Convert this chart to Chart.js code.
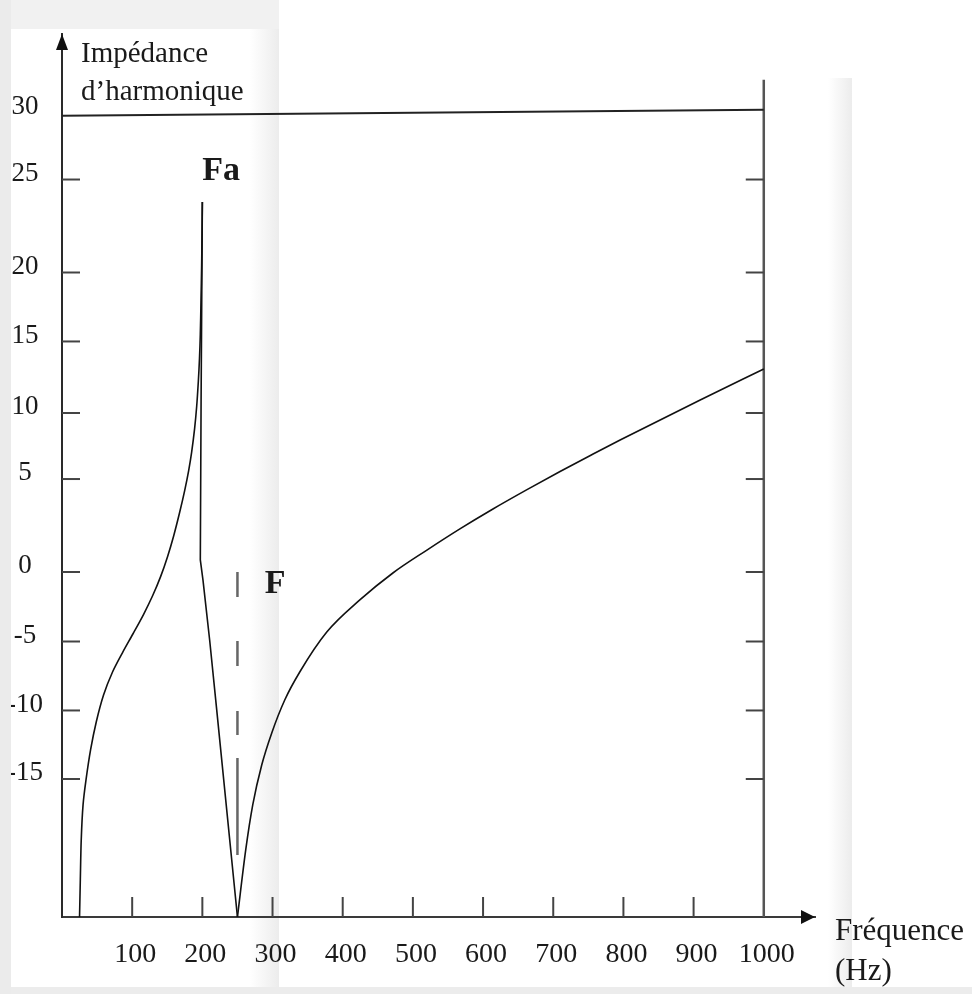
<!DOCTYPE html>
<html lang="fr">
<head>
<meta charset="utf-8">
<title>Impédance d'harmonique</title>
<script src="https://cdn.jsdelivr.net/npm/chart.js@4.4.1/dist/chart.umd.min.js"></script>
<style>
html, body { margin: 0; padding: 0; background: #fff; }
#cadre { position: relative; width: 972px; height: 994px; overflow: hidden; background: #fff; }
.bande { position: absolute; }
#grafik { position: absolute; left: 0; top: 0; }
</style>
</head>
<body>
<div id="cadre">
  <div class="bande" style="left:0;top:0;width:279px;height:29px;background:#f1f1f1"></div>
  <div class="bande" style="left:250px;top:29px;width:29px;height:965px;background:linear-gradient(to right,#fff,#ececec)"></div>
  <div class="bande" style="left:828px;top:78px;width:24px;height:916px;background:linear-gradient(to right,#fff,#ececec)"></div>
  <div class="bande" style="left:0;top:987px;width:972px;height:7px;background:#ececec"></div>
  <canvas id="grafik" width="972" height="994"></canvas>
  <div class="bande" style="left:0;top:0;width:11px;height:994px;background:#ebebeb;z-index:2"></div>
</div>
<script>
// axes
var xTicks = [100, 200, 300, 400, 500, 600, 700, 800, 900, 1000];
var yTicks = [30, 25, 20, 15, 10, 5, 0, -5, -10, -15];

// branche montante jusqu'a Fa
var freqMonte = [25.0, 26.1, 27.4, 30.0, 34.2, 40.7, 48.8, 59.2, 72.0, 86.3, 101.0, 116.3, 129.1, 140.5, 150.5,
                 159.1, 167.6, 174.8, 180.5, 184.7, 189.0, 191.9, 194.3, 195.9, 197.1, 198.1, 199.0, 199.6, 200.0];
var impMonte  = [-25, -22.32, -19.42, -16.88, -15.07, -12.88, -10.84, -8.88, -7.21, -5.80, -4.46, -3.04, -1.71, -0.33, 0.84,
                 1.94, 3.20, 4.38, 5.64, 7.01, 8.83, 10.45, 12.24, 13.78, 15.54, 18.01, 20.40, 22.28, 23.79];

// descente Fa -> F
var freqDescente = [200, 198.2, 197.1, 200.9, 210.4, 220.0, 250];
var impDescente  = [23.79, 10.9, 0.65, -0.58, -4.89, -9.72, -25];

// branche droite F -> 1000 Hz
var freqDroite = [250, 261.8, 271.8, 284.6, 298.9, 317.4, 338.8, 377.3, 424.4, 471.5, 520.0, 567.0, 614.1, 662.6, 709.7, 756.8, 795.3, 909.4, 1000];
var impDroite  = [-25, -20.14, -16.88, -13.98, -11.64, -9.24, -7.21, -4.32, -2.01, -0.07, 1.18, 2.32, 3.39, 4.43, 5.57, 6.89, 7.95, 10.91, 13.08];

// ligne a 30, cadre a 1000 Hz, tirets a F
var freqHaut = [0, 1000];
var impHaut  = [29.8, 30.2];
var freqCadre = [1000, 1000];
var impCadre  = [-25, 32.1];
var freqF = [250, 250];
var impF  = [0, -25];

// graduation irreguliere de l'axe vertical (valeur, fraction de hauteur)
var yKnots = [[-25, 0], [-15, 0.1563], [-10, 0.2339], [-5, 0.3120], [0, 0.3907], [5, 0.4960],
              [10, 0.5708], [15, 0.6518], [20, 0.7299], [25, 0.8352], [30, 0.9105], [35, 1]];

function points(xs, ys) {
  var p = [];
  for (var i = 0; i < xs.length; i++) {
    p.push({x: xs[i], y: ys[i]});
  }
  return p;
}

class EchelleMorceaux extends Chart.LinearScale {
  getPixelForValue(v) {
    if (v === null || v === undefined || isNaN(v)) return NaN;
    var i = 1;
    while (i < yKnots.length - 1 && v > yKnots[i][0]) i++;
    var a = yKnots[i - 1], b = yKnots[i];
    var f = a[1] + (v - a[0]) / (b[0] - a[0]) * (b[1] - a[1]);
    return this.getPixelForDecimal(f);
  }
  getValueForPixel(p) {
    var f = this.getDecimalForPixel(p);
    var i = 1;
    while (i < yKnots.length - 1 && f > yKnots[i][1]) i++;
    var a = yKnots[i - 1], b = yKnots[i];
    return a[0] + (f - a[1]) / (b[1] - a[1]) * (b[0] - a[0]);
  }
}
EchelleMorceaux.id = 'morceaux';
Chart.register(EchelleMorceaux);

Chart.defaults.font.family = "'Liberation Serif', 'Times New Roman', serif";

function trait(ctx, x1, y1, x2, y2) {
  ctx.beginPath();
  ctx.moveTo(x1, y1);
  ctx.lineTo(x2, y2);
  ctx.stroke();
}

// graduations interieures, fleches, textes
var decor = {
  id: 'decor',
  afterDraw: function(chart) {
    var ctx = chart.ctx;
    var x = chart.scales.x, y = chart.scales.y;
    var a = chart.chartArea;
    var xDroite = x.getPixelForValue(1000);
    ctx.save();
    ctx.strokeStyle = '#444';
    ctx.lineWidth = 2;
    yTicks.forEach(function(v) {
      if (v === 30) return;
      var py = y.getPixelForValue(v);
      trait(ctx, a.left, py, a.left + 18, py);
      trait(ctx, xDroite - 18, py, xDroite, py);
    });
    xTicks.forEach(function(v) {
      if (v === 1000) return;
      var px = x.getPixelForValue(v);
      trait(ctx, px, a.bottom, px, a.bottom - 20);
    });

    ctx.fillStyle = '#111';
    ctx.beginPath();
    ctx.moveTo(a.left, a.top);
    ctx.lineTo(a.left - 6, a.top + 16);
    ctx.lineTo(a.left + 6, a.top + 16);
    ctx.closePath();
    ctx.fill();
    ctx.beginPath();
    ctx.moveTo(a.right, a.bottom);
    ctx.lineTo(a.right - 14, a.bottom - 7);
    ctx.lineTo(a.right - 14, a.bottom + 7);
    ctx.closePath();
    ctx.fill();

    ctx.fillStyle = '#1a1a1a';
    ctx.textAlign = 'left';
    ctx.textBaseline = 'alphabetic';
    ctx.font = "29px 'Liberation Serif'";
    ctx.fillText('Impédance', a.left + 19, a.top + 28);
    ctx.fillText('d’harmonique', a.left + 19, a.top + 66);
    ctx.font = "31px 'Liberation Serif'";
    ctx.fillText('Fréquence', a.right + 20, a.bottom + 23);
    ctx.fillText('(Hz)', a.right + 20, a.bottom + 63);

    ctx.font = "bold 34px 'Liberation Serif'";
    ctx.fillText('Fa', x.getPixelForValue(200), y.getPixelForValue(25));
    ctx.fillText('F', x.getPixelForValue(289), y.getPixelForValue(-1.5));
    ctx.restore();
  }
};

new Chart(document.getElementById('grafik'), {
  type: 'line',
  data: {
    datasets: [
      { data: points(freqMonte, impMonte), borderColor: '#111', borderWidth: 1.6, tension: 0.3, fill: false },
      { data: points(freqDescente, impDescente), borderColor: '#111', borderWidth: 1.6, tension: 0, fill: false },
      { data: points(freqDroite, impDroite), borderColor: '#111', borderWidth: 1.6, cubicInterpolationMode: 'monotone', fill: false },
      { data: points(freqHaut, impHaut), borderColor: '#222', borderWidth: 2, tension: 0, fill: false },
      { data: points(freqCadre, impCadre), borderColor: '#555', borderWidth: 2.5, tension: 0, fill: false },
      { data: points(freqF, impF), borderColor: '#666', borderWidth: 2.5, borderDash: [25, 44, 25, 45, 24, 23, 97, 200], tension: 0, fill: false }
    ]
  },
  options: {
    responsive: false,
    animation: false,
    devicePixelRatio: 1,
    layout: { padding: { left: 0, top: 34, right: 157, bottom: 0 } },
    elements: { point: { radius: 0 } },
    plugins: { legend: { display: false }, tooltip: { enabled: false } },
    scales: {
      x: {
        type: 'linear',
        min: 0,
        max: 1073,
        grid: { display: false },
        border: { display: true, color: '#3a3a3a', width: 2 },
        afterBuildTicks: function(s) { s.ticks = xTicks.map(function(v) { return {value: v}; }); },
        afterFit: function(s) { s.height = 77; },
        ticks: {
          color: '#1a1a1a', font: { size: 28 }, padding: 13, labelOffset: 3,
          maxRotation: 0, autoSkip: false,
          callback: function(v) { return String(v); }
        }
      },
      y: {
        type: 'morceaux',
        min: -25,
        max: 35,
        grid: { display: false },
        border: { display: true, color: '#2a2a2a', width: 2 },
        afterBuildTicks: function(s) { s.ticks = yTicks.map(function(v) { return {value: v}; }); },
        afterFit: function(s) { s.width = 62; },
        ticks: {
          color: '#1a1a1a', font: { size: 27 }, padding: 11, labelOffset: -6,
          crossAlign: 'center', autoSkip: false,
          callback: function(v) { return String(v); }
        }
      }
    }
  },
  plugins: [decor]
});
</script>
</body>
</html>
